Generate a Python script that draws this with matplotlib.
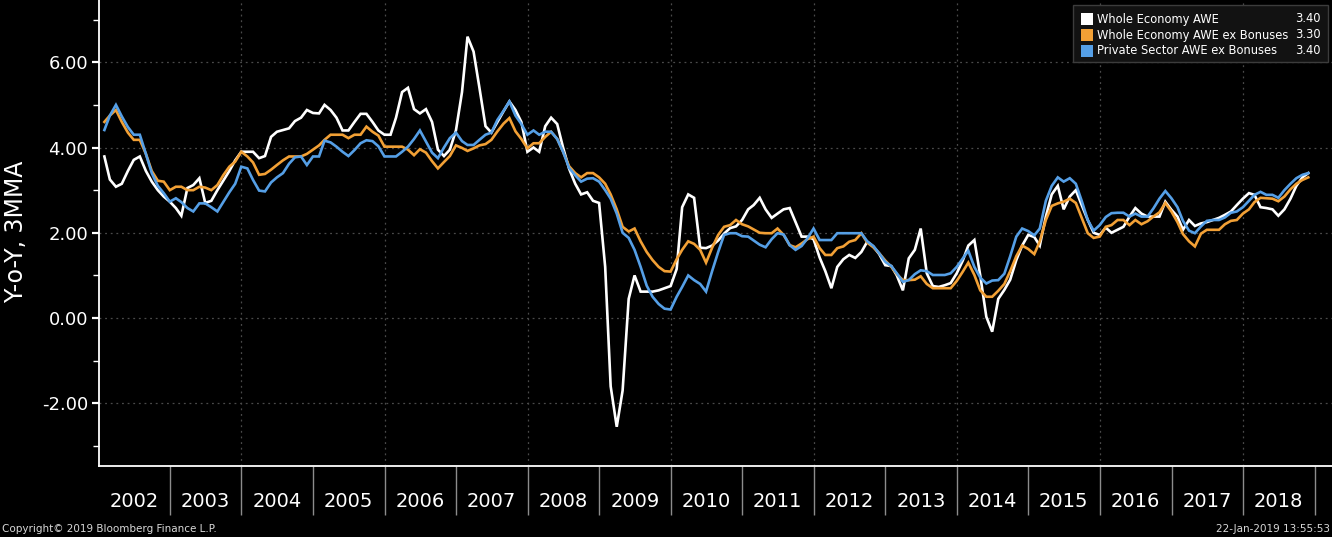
import pandas as pd
import matplotlib
matplotlib.use("Agg")
import matplotlib.pyplot as plt
import matplotlib.dates as mdates
from matplotlib.ticker import FixedLocator, FormatStrFormatter
from matplotlib.patches import Rectangle

# monthly, Jan 2002 .. Nov 2018 (month-end)
dates = pd.date_range("2002-01-31", periods=203, freq="ME")

whole_awe = [
    3.79, 3.25, 3.08, 3.15, 3.45, 3.71, 3.79, 3.45, 3.2, 3.0,
    2.85, 2.73, 2.58, 2.4, 3.05, 3.12, 3.28, 2.7, 2.75, 3.0,
    3.22, 3.45, 3.7, 3.9, 3.9, 3.9, 3.75, 3.8, 4.25, 4.37,
    4.41, 4.45, 4.62, 4.7, 4.88, 4.81, 4.8, 5.0, 4.88, 4.7,
    4.4, 4.4, 4.6, 4.79, 4.79, 4.6, 4.4, 4.3, 4.3, 4.7,
    5.3, 5.4, 4.9, 4.8, 4.9, 4.6, 3.95, 3.8, 3.95, 4.4,
    5.3, 6.6, 6.25, 5.4, 4.5, 4.35, 4.6, 4.85, 5.08, 4.88,
    4.6, 3.9, 4.0, 3.9, 4.5, 4.7, 4.55, 4.0, 3.5, 3.15,
    2.9, 2.95, 2.75, 2.7, 1.2, -1.6, -2.55, -1.7, 0.45, 1.0,
    0.62, 0.62, 0.62, 0.65, 0.7, 0.75, 1.15, 2.6, 2.9, 2.82,
    1.65, 1.64, 1.7, 1.82, 1.98, 2.11, 2.15, 2.3, 2.55, 2.65,
    2.82, 2.55, 2.35, 2.45, 2.55, 2.58, 2.25, 1.91, 1.91, 1.85,
    1.42, 1.1, 0.7, 1.2, 1.38, 1.48, 1.41, 1.55, 1.79, 1.68,
    1.5, 1.24, 1.22, 1.0, 0.65, 1.4, 1.6, 2.1, 1.05, 0.75,
    0.73, 0.77, 0.82, 1.05, 1.35, 1.7, 1.83, 1.0, 0.03, -0.32,
    0.45, 0.66, 0.9, 1.36, 1.7, 1.95, 1.9, 1.7, 2.38, 2.9,
    3.1, 2.55, 2.85, 3.0, 2.65, 2.3, 2.0, 1.95, 2.12, 2.0,
    2.07, 2.14, 2.38, 2.58, 2.45, 2.38, 2.38, 2.38, 2.73, 2.54,
    2.38, 2.07, 2.3, 2.16, 2.22, 2.25, 2.3, 2.35, 2.42, 2.5,
    2.65, 2.8, 2.93, 2.89, 2.6, 2.58, 2.55, 2.4, 2.55, 2.8,
    3.1, 3.3, 3.4,
]

whole_ex_bonus = [
    4.6, 4.75, 4.88, 4.6, 4.35, 4.18, 4.18, 3.85, 3.45, 3.22,
    3.2, 3.0, 3.08, 3.08, 3.0, 3.0, 3.08, 3.06, 3.0, 3.12,
    3.35, 3.55, 3.67, 3.9, 3.79, 3.65, 3.36, 3.38, 3.48, 3.59,
    3.7, 3.79, 3.79, 3.79, 3.85, 3.95, 4.05, 4.18, 4.3, 4.3,
    4.3, 4.22, 4.3, 4.3, 4.49, 4.37, 4.28, 4.02, 4.02, 4.02,
    4.02, 3.95, 3.82, 3.96, 3.88, 3.68, 3.51, 3.66, 3.8, 4.05,
    3.99, 3.92, 3.98, 4.05, 4.08, 4.18, 4.38, 4.56, 4.69, 4.38,
    4.2, 3.98, 4.1, 4.1, 4.25, 4.37, 4.2, 3.9, 3.56, 3.4,
    3.3, 3.4, 3.4, 3.3, 3.15, 2.9, 2.55, 2.14, 2.03, 2.1,
    1.8, 1.55, 1.36, 1.2, 1.1, 1.09, 1.38, 1.6, 1.8, 1.74,
    1.6, 1.3, 1.65, 1.95, 2.14, 2.18, 2.3, 2.2, 2.15, 2.08,
    2.0, 1.99, 1.99, 2.1, 1.95, 1.71, 1.66, 1.75, 1.85, 1.91,
    1.64, 1.48, 1.48, 1.64, 1.68, 1.79, 1.83, 1.99, 1.77, 1.66,
    1.52, 1.35, 1.2, 1.03, 0.89, 0.89, 0.9, 0.98, 0.8, 0.7,
    0.7, 0.7, 0.7, 0.87, 1.09, 1.3, 1.01, 0.65, 0.5, 0.5,
    0.64, 0.8, 1.1, 1.45, 1.7, 1.62, 1.5, 1.8, 2.3, 2.63,
    2.69, 2.73, 2.8, 2.7, 2.35, 1.99, 1.88, 1.91, 2.14, 2.18,
    2.3, 2.3, 2.18, 2.3, 2.2, 2.27, 2.38, 2.48, 2.7, 2.5,
    2.25, 1.97, 1.8, 1.68, 1.98, 2.07, 2.07, 2.07, 2.2, 2.28,
    2.3, 2.45, 2.55, 2.72, 2.82, 2.81, 2.8, 2.74, 2.85, 3.02,
    3.15, 3.24, 3.3,
]

private_ex_bonus = [
    4.41, 4.75, 5.0, 4.73, 4.48, 4.3, 4.3, 3.85, 3.4, 3.1,
    2.93, 2.73, 2.81, 2.72, 2.58, 2.5, 2.69, 2.69, 2.6, 2.5,
    2.72, 2.95, 3.15, 3.55, 3.51, 3.24, 2.99, 2.97, 3.18, 3.3,
    3.4, 3.62, 3.77, 3.79, 3.59, 3.79, 3.79, 4.16, 4.12, 4.02,
    3.9, 3.8, 3.94, 4.1, 4.17, 4.15, 4.03, 3.79, 3.79, 3.79,
    3.9, 4.02, 4.2, 4.4, 4.14, 3.88, 3.75, 4.0, 4.22, 4.35,
    4.15, 4.06, 4.06, 4.18, 4.3, 4.35, 4.65, 4.86, 5.08, 4.75,
    4.55, 4.3, 4.4, 4.3, 4.37, 4.37, 4.2, 3.9, 3.52, 3.35,
    3.2, 3.27, 3.28, 3.2, 3.0, 2.8, 2.45, 2.0, 1.88, 1.6,
    1.2, 0.76, 0.5, 0.33, 0.22, 0.2, 0.5, 0.73, 1.0, 0.89,
    0.8, 0.62, 1.1, 1.55, 1.95, 1.99, 1.99, 1.92, 1.91, 1.82,
    1.72, 1.66, 1.85, 1.99, 1.96, 1.71, 1.6, 1.69, 1.87, 2.1,
    1.83, 1.83, 1.83, 1.99, 1.99, 1.99, 1.99, 1.99, 1.8, 1.69,
    1.52, 1.32, 1.22, 1.05, 0.85, 0.89, 1.03, 1.12, 1.1, 1.01,
    1.01, 1.01, 1.05, 1.2, 1.4, 1.58, 1.2, 0.95, 0.81, 0.88,
    0.89, 1.04, 1.45, 1.91, 2.1, 2.04, 1.94, 2.1, 2.75, 3.1,
    3.3, 3.2, 3.28, 3.15, 2.75, 2.3, 2.05, 2.18, 2.37, 2.46,
    2.47, 2.47, 2.38, 2.45, 2.38, 2.38, 2.57, 2.8, 2.98, 2.81,
    2.6, 2.28, 2.05, 1.99, 2.15, 2.28, 2.3, 2.3, 2.36, 2.47,
    2.5, 2.6, 2.75, 2.89, 2.96, 2.89, 2.89, 2.82, 3.0, 3.15,
    3.28, 3.36, 3.4,
]

series_names = ["Whole Economy AWE", "Whole Economy AWE ex Bonuses",
                "Private Sector AWE ex Bonuses"]
series_values = [whole_awe, whole_ex_bonus, private_ex_bonus]
series_colors = ["#ffffff", "#f2a035", "#559fe6"]

W, H = 1332, 537
fig = plt.figure(figsize=(W / 100, H / 100), dpi=100, facecolor="black")
ax = fig.add_axes([98.5 / W, (H - 466) / H, (W - 98.5) / W, 466 / H])
ax.set_facecolor("black")

for name, vals, col in zip(series_names, series_values, series_colors):
    ax.plot(dates, vals, color=col, lw=1.9, label=name, solid_joinstyle="miter")

ax.set_xlim(pd.Timestamp("2002-01-01"), pd.Timestamp("2019-03-31"))
ax.set_ylim(-3.47, 7.46)

# grid
ax.yaxis.grid(True, which="major", color="#4a4a4a", ls=(0, (1.5, 3)), lw=0.9)
for yr in range(2004, 2019, 2):
    ax.axvline(pd.Timestamp(f"{yr}-01-01"), color="#4a4a4a", ls=(0, (1.5, 3)),
               lw=0.9, zorder=0)

# spines
for s in ["top", "right"]:
    ax.spines[s].set_visible(False)
for s in ["left", "bottom"]:
    ax.spines[s].set_color("white")
    ax.spines[s].set_linewidth(1.3)

# y axis
ax.set_yticks([-2, 0, 2, 4, 6])
ax.yaxis.set_major_formatter(FormatStrFormatter("%.2f"))
ax.yaxis.set_minor_locator(FixedLocator([-3, -1, 1, 3, 5, 7]))
ax.tick_params(axis="y", which="major", colors="white", length=5, width=1.6,
               labelsize=13, pad=2.5)
ax.tick_params(axis="y", which="minor", colors="white", length=4, width=1)

# x axis: separators at year starts, labels mid-year
ax.xaxis.set_major_locator(mdates.YearLocator(base=1, month=1, day=1))
ax.xaxis.set_minor_locator(mdates.MonthLocator(bymonth=7, bymonthday=1))
ax.xaxis.set_major_formatter(plt.NullFormatter())
ax.xaxis.set_minor_formatter(mdates.DateFormatter("%Y"))
ax.set_xticks([pd.Timestamp(f"{y}-01-01") for y in range(2003, 2020)])
ax.tick_params(axis="x", which="major", colors="#8c8c8c", length=35, width=1)
ax.tick_params(axis="x", which="minor", length=0, labelsize=14,
               labelcolor="white", pad=19)

fig.text(16 / W, 1 - 232 / H, "Y-o-Y, 3MMA", color="white", fontsize=17,
         rotation=90, ha="center", va="center")

# legend box
fig.add_artist(Rectangle((1073 / W, 1 - 62 / H), 255 / W, 57 / H,
                         transform=fig.transFigure, facecolor="#121212",
                         edgecolor="#3c3c3c", lw=1, zorder=5))
rows_y = [19, 35, 51]
for ry, name, vals, col in zip(rows_y, series_names, series_values, series_colors):
    fig.add_artist(Rectangle((1081 / W, 1 - (ry + 6) / H), 12 / W, 12 / H,
                             transform=fig.transFigure, facecolor=col,
                             edgecolor="none", zorder=6))
    fig.text(1097 / W, 1 - ry / H, name, color="white", fontsize=8.3,
             ha="left", va="center", zorder=7)
    fig.text(1321 / W, 1 - ry / H, f"{vals[-1]:.2f}", color="white",
             fontsize=8.3, ha="right", va="center", zorder=7)

fig.text(2 / W, 1 - 529 / H, "Copyright\u00a9 2019 Bloomberg Finance L.P.",
         color="#d8d8d8", fontsize=7.5, ha="left", va="center")
fig.text(1330 / W, 1 - 529 / H, "22-Jan-2019 13:55:53", color="#d8d8d8",
         fontsize=7.5, ha="right", va="center")

fig.savefig("out.png", dpi=100, facecolor="black")
